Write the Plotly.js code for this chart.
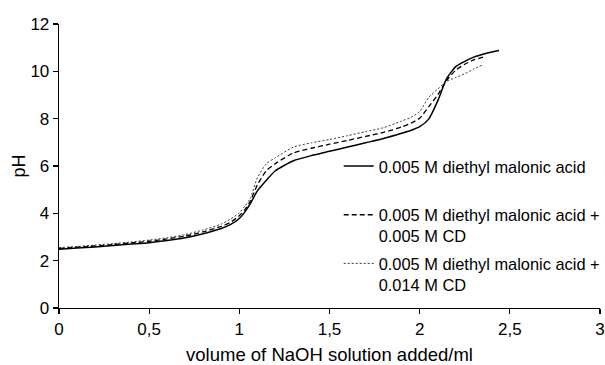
<!DOCTYPE html>
<html>
<head>
<meta charset="utf-8">
<script src="https://cdn.plot.ly/plotly-3.0.1.min.js"></script>
<style>html,body{margin:0;padding:0;background:#fff;}#chart{width:605px;height:365px;}</style>
</head>
<body>
<div id="chart"></div>
<script>
// volume of NaOH (ml) and pH for each titration
const xSolid = [0, 0.1, 0.2, 0.3, 0.4, 0.5, 0.6, 0.7, 0.8, 0.9, 0.95, 1.0, 1.03, 1.06, 1.1, 1.15, 1.2, 1.3, 1.4, 1.5, 1.6, 1.7, 1.8, 1.9, 1.95, 2.0, 2.05, 2.1, 2.15, 2.2, 2.25, 2.3, 2.35, 2.4, 2.44];
const ySolid = [2.48, 2.53, 2.58, 2.64, 2.70, 2.76, 2.85, 2.97, 3.14, 3.36, 3.52, 3.78, 4.05, 4.40, 4.95, 5.40, 5.80, 6.22, 6.44, 6.62, 6.80, 6.98, 7.16, 7.38, 7.50, 7.66, 7.98, 8.75, 9.70, 10.20, 10.42, 10.60, 10.72, 10.82, 10.88];

const xDash = [0, 0.1, 0.2, 0.3, 0.4, 0.5, 0.6, 0.7, 0.8, 0.9, 0.95, 1.0, 1.03, 1.06, 1.1, 1.15, 1.2, 1.3, 1.4, 1.5, 1.6, 1.7, 1.8, 1.9, 1.95, 2.0, 2.05, 2.1, 2.15, 2.2, 2.25, 2.3, 2.36];
const yDash = [2.52, 2.57, 2.62, 2.68, 2.75, 2.82, 2.92, 3.04, 3.22, 3.45, 3.62, 3.90, 4.15, 4.50, 5.20, 5.80, 6.10, 6.55, 6.75, 6.92, 7.08, 7.25, 7.42, 7.65, 7.80, 8.02, 8.50, 9.00, 9.62, 10.05, 10.30, 10.48, 10.62];

const xDot = [0, 0.1, 0.2, 0.3, 0.4, 0.5, 0.6, 0.7, 0.8, 0.9, 0.95, 1.0, 1.03, 1.06, 1.1, 1.15, 1.2, 1.3, 1.4, 1.5, 1.6, 1.7, 1.8, 1.9, 1.95, 2.0, 2.05, 2.1, 2.15, 2.2, 2.25, 2.3, 2.35];
const yDot = [2.55, 2.60, 2.66, 2.72, 2.79, 2.87, 2.97, 3.10, 3.30, 3.55, 3.75, 4.02, 4.30, 4.62, 5.50, 6.10, 6.35, 6.80, 6.98, 7.12, 7.28, 7.45, 7.62, 7.90, 8.05, 8.30, 8.90, 9.25, 9.58, 9.74, 9.90, 10.10, 10.27];

const seriesNames = [
  "0.005 M diethyl malonic acid<br>&nbsp;",
  "0.005 M diethyl malonic acid +<br>0.005 M CD",
  "0.005 M diethyl malonic acid +<br>0.014 M CD"
];

const xTickVals = [0, 0.5, 1, 1.5, 2, 2.5, 3];
const xTickText = ["0", "0,5", "1", "1,5", "2", "2,5", "3"];
const yTickVals = [0, 2, 4, 6, 8, 10, 12];
const yTickText = ["0", "2", "4", "6", "8", "10", "12"];

const FONT = "Liberation Sans, Arial, Helvetica, sans-serif";

const traces = [
  {x: xSolid, y: ySolid, name: seriesNames[0], legendgroup: "a", mode: "lines",
   line: {color: "#000", width: 1.5, shape: "spline", smoothing: 0.6}},
  {x: xDash, y: yDash, name: seriesNames[1], legendgroup: "b", mode: "lines",
   line: {color: "#000", width: 1.3, dash: "5px,3px", shape: "spline", smoothing: 0.6}},
  {x: xDot, y: yDot, name: seriesNames[2], legendgroup: "c", mode: "lines",
   line: {color: "#222", width: 0.9, dash: "2px,2px", shape: "spline", smoothing: 0.6}}
];

const layout = {
  width: 605, height: 365,
  margin: {l: 59, r: 5, t: 24, b: 57, pad: 0, autoexpand: false},
  paper_bgcolor: "#fff", plot_bgcolor: "#fff",
  font: {family: FONT, color: "#000", size: 17},
  showlegend: true,
  legend: {x: 0.517, xanchor: "left", y: 0.56, yanchor: "top", valign: "top",
           bgcolor: "rgba(0,0,0,0)", borderwidth: 0, tracegroupgap: 3,
           font: {family: FONT, size: 16.4, color: "#000"}},
  xaxis: {range: [0, 3], tickvals: xTickVals, ticktext: xTickText, automargin: true,
          showline: true, linecolor: "#000", linewidth: 1.3, ticks: "outside", ticklen: 5, tickwidth: 1.2, tickcolor: "#000",
          showgrid: false, zeroline: false, tickfont: {size: 17},
          title: {text: "volume of NaOH solution added/ml", font: {size: 18.5}, standoff: 15}},
  yaxis: {range: [0, 12], tickvals: yTickVals, ticktext: yTickText, automargin: true,
          showline: true, linecolor: "#000", linewidth: 1.3, ticks: "outside", ticklen: 5, tickwidth: 1.2, tickcolor: "#000",
          showgrid: false, zeroline: false, tickfont: {size: 17},
          title: {text: "pH", font: {size: 18}, standoff: 0}}
};

Plotly.newPlot("chart", traces, layout, {staticPlot: true, displayModeBar: false});
</script>
</body>
</html>
